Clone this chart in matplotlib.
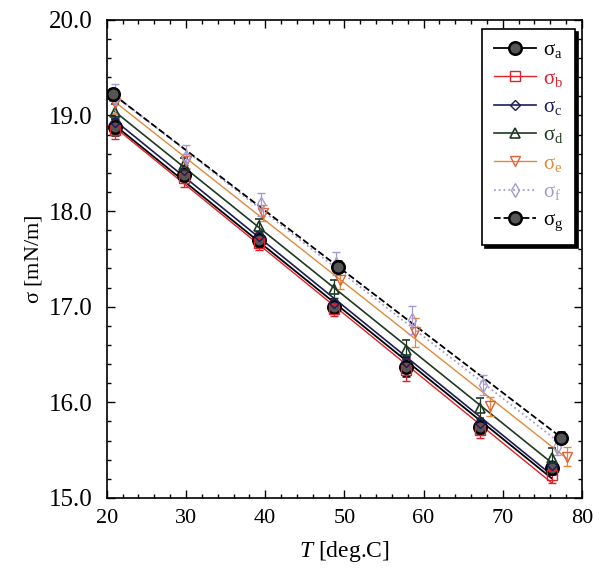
import matplotlib
matplotlib.use("Agg")
import numpy as np
import matplotlib.pyplot as plt
from matplotlib.ticker import MultipleLocator
from matplotlib.lines import Line2D

plt.rcParams['font.family'] = ['Liberation Serif', 'DejaVu Serif']
plt.rcParams['mathtext.fontset'] = 'custom'
plt.rcParams['mathtext.rm'] = 'Liberation Serif'
plt.rcParams['mathtext.it'] = 'Liberation Serif:italic'

# ---- data ----
T_low = [21.0, 29.8, 39.2, 48.7, 57.8, 67.1, 76.2]
sigma_a = [18.88, 18.38, 17.70, 17.00, 16.37, 15.74, 15.31]
err_a = [0.08, 0.06, 0.07, 0.06, 0.10, 0.06, 0.06]
sigma_b = [18.85, 18.35, 17.67, 16.98, 16.34, 15.71, 15.24]
err_b = [0.10, 0.10, 0.08, 0.08, 0.12, 0.08, 0.08]
sigma_c = [18.93, 18.43, 17.74, 17.04, 16.42, 15.78, 15.34]
err_c = [0.06, 0.05, 0.05, 0.05, 0.06, 0.05, 0.05]
sigma_d = [19.04, 18.48, 17.84, 17.18, 16.55, 15.94, 15.42]
err_d = [0.08, 0.08, 0.08, 0.10, 0.10, 0.10, 0.10]

T_e = [21.0, 30.0, 39.7, 49.4, 58.9, 68.4, 78.1]
sigma_e = [19.13, 18.52, 17.98, 17.28, 16.73, 15.96, 15.43]
err_e = [0.12, 0.08, 0.08, 0.10, 0.15, 0.10, 0.10]

T_f = [21.0, 30.0, 39.5, 49.0, 58.5, 67.5, 76.9]
sigma_f = [19.18, 18.57, 18.07, 17.45, 16.86, 16.18, 15.53]
err_f = [0.15, 0.12, 0.12, 0.12, 0.15, 0.10, 0.08]

T_g = [20.8, 49.2, 77.4]
sigma_g = [19.22, 17.42, 15.63]
err_g = [0.06, 0.06, 0.06]

labels = [r'$\mathrm{\sigma_a}$', r'$\mathrm{\sigma_b}$', r'$\mathrm{\sigma_c}$',
          r'$\mathrm{\sigma_d}$', r'$\mathrm{\sigma_e}$', r'$\mathrm{\sigma_f}$',
          r'$\mathrm{\sigma_g}$']

fig = plt.figure(figsize=(6.0, 5.83), dpi=100)
ax = fig.add_axes([0.178, 0.146, 0.792, 0.82])

series = [
    (T_low, sigma_a, err_a, dict(color='black', ls='-', marker='o', mfc='#555555', mec='black', ms=9, mew=1.8, lw=1.3)),
    (T_low, sigma_b, err_b, dict(color='#e0202a', ls='-', marker='s', mfc='none', mec='#e0202a', ms=7, mew=1.0, lw=1.0)),
    (T_low, sigma_c, err_c, dict(color='#1c1c5a', ls='-', marker='D', mfc='none', mec='#1c1c5a', ms=5, mew=1.0, lw=1.2)),
    (T_low, sigma_d, err_d, dict(color='#1e3a22', ls='-', marker='^', mfc='none', mec='#1e3a22', ms=7, mew=1.2, lw=1.2)),
    (T_e, sigma_e, err_e, dict(color='#e08a3a', ls='-', marker='v', mfc='none', mec='#e0603a', ms=7, mew=1.0, lw=1.0)),
    (T_f, sigma_f, err_f, dict(color='#a79ad0', ls=':', marker='d', mfc='none', mec='#a79ad0', ms=7, mew=1.0, lw=1.3)),
    (T_g, sigma_g, err_g, dict(color='black', ls='--', marker='o', mfc='#555555', mec='black', ms=9, mew=1.8, lw=1.3)),
]

handles = []
for (x, y, e, st), lab in zip(series, labels):
    # linear fit line over the measured range
    k, b0 = np.polyfit(x, y, 1)
    xs = np.array([min(x), max(x)])
    ax.plot(xs, k * xs + b0, color=st['color'], ls=st['ls'], lw=st['lw'], zorder=2)
    ax.errorbar(x, y, yerr=e, capsize=3, elinewidth=0.9, ecolor=st['color'],
                capthick=0.9, ls='none', marker=st['marker'], mfc=st['mfc'],
                mec=st['mec'], ms=st['ms'], mew=st['mew'], zorder=3)
    handles.append(Line2D([], [], color=st['color'], ls=st['ls'], lw=st['lw'],
                          marker=st['marker'], mfc=st['mfc'], mec=st['mec'],
                          ms=st['ms'], mew=st['mew'], label=lab))

ax.set_xlim(20, 80)
ax.set_ylim(15.0, 20.0)
ax.xaxis.set_major_locator(MultipleLocator(10))
ax.xaxis.set_minor_locator(MultipleLocator(2))
ax.yaxis.set_major_locator(MultipleLocator(1.0))
ax.yaxis.set_minor_locator(MultipleLocator(0.2))
ax.yaxis.set_major_formatter(plt.FuncFormatter(lambda v, p: f"{v:.1f}"))
ax.tick_params(which='both', direction='in', top=True, right=True)
ax.tick_params(axis='x', labelsize=16, pad=8)
ax.tick_params(axis='y', labelsize=18, pad=10)
ax.tick_params(which='major', length=6, width=1.0)
ax.tick_params(which='minor', length=3, width=1.0)
for s in ax.spines.values():
    s.set_linewidth(1.2)

ax.set_xlabel(r'$T$ [deg.C]', fontsize=17, labelpad=8)
ax.set_ylabel(r'$\mathrm{\sigma}$ [mN/m]', fontsize=16, labelpad=4)

leg = ax.legend(handles=handles, loc='upper right', bbox_to_anchor=(0.985, 0.98),
                borderaxespad=0, fontsize=15, handlelength=2.0, handletextpad=0.35,
                labelspacing=0.42, borderpad=0.55, fancybox=False, edgecolor='black',
                framealpha=1, shadow={'color': 'black', 'alpha': 1.0})
leg.get_frame().set_linewidth(1.2)
for txt, (_, _, _, st) in zip(leg.get_texts(), series):
    txt.set_color(st['color'])

fig.savefig('out.png', dpi=100)
